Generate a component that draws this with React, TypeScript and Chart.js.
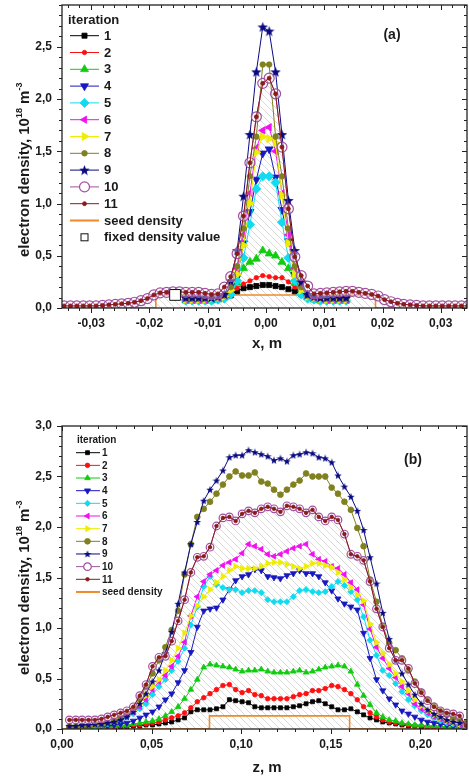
import React, { useEffect, useRef } from 'react';
import { Chart, registerables } from 'chart.js';

Chart.register(...registerables);

const FONT = '"Liberation Sans", Arial, Helvetica, sans-serif';

// ================= Panel (a): transverse profile, x [m] =================
const A_X_FULL = [-0.03465, -0.03355, -0.03245, -0.03135, -0.03025, -0.02915, -0.02805, -0.02695, -0.02585, -0.02475, -0.02365, -0.02255, -0.02145, -0.02035, -0.01925, -0.01815, -0.01705, -0.01595, -0.01485, -0.01375, -0.01265, -0.01155, -0.01045, -0.00935, -0.00825, -0.00715, -0.00605, -0.00495, -0.00385, -0.00275, -0.00165, -0.00055, 0.00055, 0.00165, 0.00275, 0.00385, 0.00495, 0.00605, 0.00715, 0.00825, 0.00935, 0.01045, 0.01155, 0.01265, 0.01375, 0.01485, 0.01595, 0.01705, 0.01815, 0.01925, 0.02035, 0.02145, 0.02255, 0.02365, 0.02475, 0.02585, 0.02695, 0.02805, 0.02915, 0.03025, 0.03135, 0.03245, 0.03355, 0.03465];
const A_X_CORE = [-0.01375, -0.01265, -0.01155, -0.01045, -0.00935, -0.00825, -0.00715, -0.00605, -0.00495, -0.00385, -0.00275, -0.00165, -0.00055, 0.00055, 0.00165, 0.00275, 0.00385, 0.00495, 0.00605, 0.00715, 0.00825, 0.00935, 0.01045, 0.01155, 0.01265, 0.01375];
const A_IT1 = [0.07, 0.07, 0.07, 0.07, 0.08, 0.09, 0.10, 0.12, 0.16, 0.19, 0.20, 0.21, 0.22, 0.22, 0.21, 0.20, 0.18, 0.16, 0.13, 0.10, 0.09, 0.08, 0.07, 0.07, 0.07, 0.07];
const A_IT2 = [0.07, 0.07, 0.07, 0.08, 0.08, 0.09, 0.11, 0.14, 0.19, 0.23, 0.26, 0.29, 0.31, 0.30, 0.29, 0.29, 0.25, 0.20, 0.15, 0.11, 0.09, 0.08, 0.08, 0.07, 0.07, 0.07];
const A_IT3 = [0.07, 0.07, 0.07, 0.07, 0.07, 0.08, 0.10, 0.15, 0.24, 0.38, 0.44, 0.47, 0.55, 0.52, 0.50, 0.44, 0.38, 0.24, 0.15, 0.10, 0.08, 0.07, 0.07, 0.07, 0.07, 0.07];
const A_IT4 = [0.08, 0.08, 0.08, 0.08, 0.09, 0.09, 0.10, 0.15, 0.30, 0.62, 0.92, 1.23, 1.48, 1.52, 1.25, 0.94, 0.64, 0.32, 0.16, 0.10, 0.09, 0.09, 0.08, 0.08, 0.08, 0.08];
const A_IT5 = [0.07, 0.07, 0.07, 0.07, 0.07, 0.08, 0.09, 0.13, 0.26, 0.48, 0.80, 1.14, 1.26, 1.26, 1.20, 0.82, 0.48, 0.26, 0.13, 0.09, 0.08, 0.07, 0.07, 0.07, 0.07, 0.07];
const A_IT6 = [0.08, 0.08, 0.08, 0.08, 0.09, 0.10, 0.12, 0.20, 0.38, 0.70, 1.10, 1.53, 1.70, 1.73, 1.50, 1.10, 0.70, 0.38, 0.20, 0.12, 0.10, 0.09, 0.08, 0.08, 0.08, 0.08];
const A_IT7 = [0.08, 0.08, 0.08, 0.08, 0.09, 0.10, 0.11, 0.17, 0.32, 0.60, 1.00, 1.49, 1.64, 1.62, 1.58, 1.08, 0.62, 0.32, 0.17, 0.11, 0.10, 0.09, 0.08, 0.08, 0.08, 0.08];
const A_IT8 = [0.09, 0.09, 0.09, 0.09, 0.10, 0.11, 0.12, 0.20, 0.40, 0.76, 1.26, 1.64, 2.33, 2.33, 1.64, 1.26, 0.76, 0.40, 0.20, 0.12, 0.11, 0.10, 0.09, 0.09, 0.09, 0.09];
const A_IT9 = [0.10, 0.10, 0.10, 0.10, 0.10, 0.11, 0.13, 0.26, 0.55, 1.07, 1.66, 2.26, 2.69, 2.65, 2.26, 1.66, 1.03, 0.55, 0.25, 0.13, 0.11, 0.10, 0.10, 0.10, 0.10, 0.10];
const A_IT10_11 = [0.02, 0.02, 0.02, 0.02, 0.02, 0.02, 0.025, 0.03, 0.035, 0.04, 0.045, 0.055, 0.07, 0.09, 0.125, 0.145, 0.15, 0.155, 0.155, 0.15, 0.15, 0.15, 0.14, 0.13, 0.135, 0.20, 0.30, 0.52, 0.88, 1.39, 1.83, 2.15,
  2.20, 2.05, 1.54, 0.95, 0.49, 0.31, 0.21, 0.135, 0.14, 0.145, 0.15, 0.155, 0.16, 0.16, 0.15, 0.14, 0.13, 0.115, 0.08, 0.06, 0.045, 0.035, 0.03, 0.025, 0.02, 0.02, 0.02, 0.02, 0.02, 0.02, 0.02, 0.02];
const A_SEED_X = [-0.035, -0.0189, -0.0189, 0.0188, 0.0188, 0.0345];
const A_SEED_Y = [0, 0, 0.125, 0.125, 0, 0];
const A_FIXED_X = [-0.0156];
const A_FIXED_Y = [0.125];
const A_X_TICKS = [-0.03, -0.02, -0.01, 0, 0.01, 0.02, 0.03];
const A_Y_TICKS = [0, 0.5, 1, 1.5, 2, 2.5];

// ================= Panel (b): axial profile, z [m] =================
const B_Z = [0.0041, 0.0077, 0.0112, 0.0148, 0.0184, 0.0220, 0.0255, 0.0291, 0.0327, 0.0362, 0.0398, 0.0434, 0.0469, 0.0505, 0.0541, 0.0577, 0.0612, 0.0648, 0.0684, 0.0719, 0.0755, 0.0791, 0.0826, 0.0862, 0.0898, 0.0934, 0.0969, 0.1005, 0.1041, 0.1076, 0.1112, 0.1148, 0.1183, 0.1219, 0.1255, 0.1291, 0.1326, 0.1362, 0.1398, 0.1433, 0.1469, 0.1505, 0.1540, 0.1576, 0.1612, 0.1648, 0.1683, 0.1719, 0.1755, 0.1790, 0.1826, 0.1862, 0.1897, 0.1933, 0.1969, 0.2005, 0.2040, 0.2076, 0.2112, 0.2147, 0.2183, 0.2219, 0.2254];
const B_IT1 = [0.01, 0.01, 0.01, 0.01, 0.01, 0.01, 0.02, 0.02, 0.02, 0.02, 0.03, 0.03, 0.04, 0.04, 0.05, 0.06, 0.07, 0.09, 0.11, 0.17, 0.19, 0.19, 0.19, 0.20, 0.22, 0.29, 0.28, 0.27, 0.26, 0.22, 0.21, 0.21, 0.21, 0.21, 0.21, 0.22, 0.23, 0.25, 0.27, 0.28, 0.25, 0.22, 0.19, 0.19, 0.20, 0.17, 0.14, 0.11, 0.09, 0.07, 0.06, 0.05, 0.04, 0.03, 0.03, 0.02, 0.02, 0.02, 0.01, 0.01, 0.01, 0.01, 0.01];
const B_IT2 = [0.01, 0.01, 0.01, 0.01, 0.02, 0.02, 0.02, 0.02, 0.03, 0.03, 0.04, 0.04, 0.05, 0.06, 0.07, 0.09, 0.11, 0.13, 0.16, 0.21, 0.27, 0.31, 0.35, 0.39, 0.43, 0.44, 0.39, 0.36, 0.38, 0.34, 0.33, 0.30, 0.30, 0.30, 0.30, 0.32, 0.34, 0.35, 0.38, 0.38, 0.40, 0.43, 0.42, 0.39, 0.35, 0.29, 0.22, 0.16, 0.12, 0.09, 0.07, 0.06, 0.05, 0.04, 0.03, 0.03, 0.02, 0.02, 0.02, 0.01, 0.01, 0.01, 0.01];
const B_IT3 = [0.01, 0.01, 0.01, 0.02, 0.02, 0.02, 0.03, 0.03, 0.04, 0.04, 0.05, 0.06, 0.07, 0.08, 0.10, 0.13, 0.17, 0.22, 0.30, 0.39, 0.49, 0.61, 0.64, 0.63, 0.62, 0.61, 0.59, 0.57, 0.58, 0.58, 0.59, 0.57, 0.56, 0.56, 0.56, 0.57, 0.58, 0.56, 0.57, 0.59, 0.61, 0.62, 0.63, 0.62, 0.57, 0.44, 0.33, 0.24, 0.16, 0.12, 0.09, 0.08, 0.06, 0.05, 0.04, 0.04, 0.03, 0.03, 0.03, 0.02, 0.02, 0.02, 0.02];
const B_IT4 = [0.02, 0.02, 0.02, 0.02, 0.03, 0.03, 0.03, 0.04, 0.05, 0.06, 0.08, 0.11, 0.14, 0.17, 0.22, 0.29, 0.35, 0.46, 0.58, 0.76, 1.01, 1.17, 1.19, 1.20, 1.28, 1.38, 1.47, 1.51, 1.53, 1.58, 1.57, 1.51, 1.50, 1.49, 1.52, 1.54, 1.57, 1.54, 1.54, 1.51, 1.45, 1.37, 1.29, 1.24, 1.21, 1.18, 0.95, 0.70, 0.49, 0.38, 0.30, 0.24, 0.18, 0.15, 0.12, 0.09, 0.07, 0.06, 0.05, 0.04, 0.03, 0.03, 0.02];
const B_IT5 = [0.02, 0.02, 0.02, 0.03, 0.03, 0.04, 0.05, 0.07, 0.09, 0.12, 0.15, 0.20, 0.25, 0.34, 0.42, 0.49, 0.58, 0.67, 0.80, 1.03, 1.21, 1.41, 1.51, 1.43, 1.40, 1.38, 1.38, 1.35, 1.37, 1.37, 1.35, 1.28, 1.26, 1.26, 1.26, 1.31, 1.37, 1.38, 1.36, 1.35, 1.36, 1.41, 1.46, 1.42, 1.36, 1.28, 1.11, 0.88, 0.73, 0.58, 0.53, 0.45, 0.37, 0.29, 0.23, 0.18, 0.14, 0.11, 0.08, 0.06, 0.05, 0.04, 0.03];
const B_IT6 = [0.03, 0.03, 0.03, 0.04, 0.04, 0.05, 0.06, 0.07, 0.11, 0.14, 0.17, 0.22, 0.29, 0.39, 0.47, 0.53, 0.62, 0.72, 0.86, 1.12, 1.31, 1.46, 1.53, 1.57, 1.62, 1.65, 1.68, 1.74, 1.83, 1.81, 1.78, 1.73, 1.71, 1.73, 1.76, 1.79, 1.81, 1.83, 1.73, 1.68, 1.66, 1.61, 1.59, 1.53, 1.45, 1.38, 1.23, 0.99, 0.81, 0.70, 0.60, 0.51, 0.42, 0.35, 0.25, 0.20, 0.16, 0.12, 0.10, 0.07, 0.06, 0.05, 0.04];
const B_IT7 = [0.02, 0.02, 0.03, 0.03, 0.04, 0.05, 0.06, 0.09, 0.12, 0.15, 0.19, 0.25, 0.33, 0.42, 0.49, 0.58, 0.68, 0.80, 0.95, 1.12, 1.22, 1.31, 1.38, 1.45, 1.51, 1.57, 1.61, 1.59, 1.59, 1.59, 1.61, 1.64, 1.65, 1.65, 1.63, 1.61, 1.59, 1.61, 1.64, 1.64, 1.62, 1.60, 1.55, 1.48, 1.40, 1.33, 1.27, 1.04, 0.86, 0.75, 0.64, 0.55, 0.47, 0.38, 0.29, 0.23, 0.18, 0.14, 0.11, 0.08, 0.06, 0.05, 0.04];
const B_IT8 = [0.02, 0.02, 0.03, 0.03, 0.04, 0.05, 0.06, 0.08, 0.11, 0.15, 0.20, 0.30, 0.42, 0.55, 0.68, 0.81, 0.98, 1.17, 1.53, 1.83, 2.10, 2.18, 2.25, 2.33, 2.42, 2.50, 2.55, 2.51, 2.51, 2.54, 2.45, 2.43, 2.37, 2.32, 2.37, 2.42, 2.46, 2.53, 2.50, 2.50, 2.50, 2.39, 2.33, 2.25, 2.17, 1.99, 1.81, 1.48, 1.26, 1.02, 0.85, 0.78, 0.70, 0.58, 0.47, 0.37, 0.29, 0.23, 0.18, 0.14, 0.11, 0.09, 0.06];
const B_IT9 = [0.03, 0.03, 0.04, 0.04, 0.05, 0.05, 0.06, 0.07, 0.09, 0.12, 0.17, 0.25, 0.35, 0.47, 0.58, 0.75, 0.96, 1.24, 1.55, 1.83, 2.05, 2.26, 2.37, 2.46, 2.56, 2.69, 2.71, 2.71, 2.76, 2.74, 2.72, 2.70, 2.66, 2.68, 2.65, 2.71, 2.72, 2.74, 2.73, 2.69, 2.68, 2.64, 2.51, 2.40, 2.30, 2.16, 1.97, 1.70, 1.44, 1.15, 0.89, 0.68, 0.55, 0.44, 0.34, 0.25, 0.19, 0.15, 0.12, 0.09, 0.07, 0.06, 0.05];
const B_IT10_11 = [0.09, 0.09, 0.09, 0.09, 0.09, 0.10, 0.12, 0.14, 0.16, 0.18, 0.22, 0.33, 0.44, 0.62, 0.71, 0.72, 0.87, 1.07, 1.28, 1.55, 1.70, 1.71, 1.80, 2.01, 2.09, 2.10, 2.06, 2.13, 2.16, 2.14, 2.18, 2.20, 2.18, 2.15, 2.21, 2.20, 2.18, 2.14, 2.17, 2.10, 2.06, 2.10, 2.07, 1.93, 1.73, 1.71, 1.67, 1.46, 1.19, 1.01, 0.80, 0.68, 0.68, 0.60, 0.45, 0.36, 0.28, 0.22, 0.18, 0.16, 0.15, 0.13, 0.03];
const B_SEED_X = [0, 0.0823, 0.0823, 0.1605, 0.1605, 0.226];
const B_SEED_Y = [0, 0, 0.13, 0.13, 0, 0];
const B_X_TICKS = [0, 0.05, 0.1, 0.15, 0.2];
const B_Y_TICKS = [0, 0.5, 1, 1.5, 2, 2.5, 3];

// ================= labels =================
const ITER_LABELS = ['1', '2', '3', '4', '5', '6', '7', '8', '9', '10', '11'];
const LEGEND_TITLE = 'iteration';
const SEED_LABEL = 'seed density';
const FIXED_LABEL = 'fixed density value';

// ================= styles =================
const COLORS = ['#000000', '#ff1010', '#10cc10', '#1818c0', '#10dcf0', '#f010f0', '#eeee00', '#808020', '#0a0a80', '#a050a0', '#8b1a1a'];
const SHAPES = ['rect', 'circle', 'triangle', 'triangle', 'rectRot', 'triangle', 'triangle', 'circle', 'star', 'circle', 'circle'];
const ROTS = [0, 0, 0, 180, 0, 270, 90, 0, 0, 0, 0];
const SEED_COLOR = '#f0892a';
const TEXT = '#1a1a1a';

const pts = (xs: number[], ys: number[]) => xs.map((x, i) => ({ x, y: ys[i] }));
const fmt = (v: number, d: number) => (v < 0 ? '-' : '') + Math.abs(v).toFixed(d).replace('.', ',');

function makeStar(size: number, color: string) {
  const c = document.createElement('canvas');
  c.width = size;
  c.height = size;
  const g = c.getContext('2d')!;
  const R = size / 2;
  const r = R * 0.42;
  const cx = size / 2;
  const cy = size / 2 + R * 0.08;
  g.beginPath();
  for (let k = 0; k < 10; k++) {
    const ang = -Math.PI / 2 + (k * Math.PI) / 5;
    const rad = k % 2 === 0 ? R : r;
    const px = cx + rad * Math.cos(ang);
    const py = cy + rad * Math.sin(ang);
    if (k === 0) g.moveTo(px, py);
    else g.lineTo(px, py);
  }
  g.closePath();
  g.fillStyle = color;
  g.fill();
  return c;
}

function makeHatch(step: number) {
  const c = document.createElement('canvas');
  c.width = step;
  c.height = step;
  const g = c.getContext('2d')!;
  g.strokeStyle = '#cfcfcf';
  g.lineWidth = 0.8;
  for (let k = -1; k <= 1; k++) {
    g.beginPath();
    g.moveTo(k * step, 0);
    g.lineTo(k * step + step, step);
    g.stroke();
  }
  return g.createPattern(c, 'repeat');
}

function drawShape(ctx: CanvasRenderingContext2D, shape: any, x: number, y: number, r: number, rot: number, fill: string, stroke: string, lw: number) {
  ctx.save();
  ctx.translate(x, y);
  if (typeof shape !== 'string') {
    ctx.drawImage(shape, -shape.width / 2, -shape.height / 2);
    ctx.restore();
    return;
  }
  ctx.rotate((rot * Math.PI) / 180);
  ctx.beginPath();
  if (shape === 'circle') ctx.arc(0, 0, r, 0, Math.PI * 2);
  else if (shape === 'rect') {
    const s = r * Math.SQRT1_2;
    ctx.rect(-s, -s, 2 * s, 2 * s);
  } else if (shape === 'rectRot') {
    ctx.moveTo(0, -r);
    ctx.lineTo(r, 0);
    ctx.lineTo(0, r);
    ctx.lineTo(-r, 0);
    ctx.closePath();
  } else if (shape === 'triangle') {
    for (let k = 0; k < 3; k++) {
      const a = (k * 2 * Math.PI) / 3;
      const px = Math.sin(a) * r;
      const py = -Math.cos(a) * r;
      if (k === 0) ctx.moveTo(px, py);
      else ctx.lineTo(px, py);
    }
    ctx.closePath();
  }
  ctx.fillStyle = fill;
  ctx.fill();
  ctx.lineWidth = lw;
  ctx.strokeStyle = stroke;
  ctx.stroke();
  ctx.restore();
}

type PanelCfg = {
  tag: string;
  xs: number[][];
  ys: number[][];
  seedX: number[];
  seedY: number[];
  fixedX?: number[];
  fixedY?: number[];
  xMin: number;
  xMax: number;
  yMax: number;
  xTicks: number[];
  yTicks: number[];
  xMajor: number;
  xMinor: number;
  xDigits: number;
  radii: number[];
  starSize: number;
  padding: { left: number; right: number; top: number; bottom: number };
  xTitle: string;
  xTitleY: number;
  yTitleX: number;
  yTitleStart: number;
  panelLabel: string;
  panelLabelX: number;
  panelLabelY: number;
  legend: { titleX: number; titleY: number; y0: number; dy: number; lx0: number; lx1: number; mx: number; tx: number; size: number };
};

function buildChart(canvas: HTMLCanvasElement, cfg: PanelCfg) {
  const hatch = makeHatch(7);
  const star = makeStar(cfg.starSize, COLORS[8]);
  const datasets: any[] = [];
  datasets.push({
    label: SEED_LABEL,
    data: pts(cfg.seedX, cfg.seedY),
    showLine: true,
    borderColor: SEED_COLOR,
    borderWidth: 1.6,
    pointRadius: 0,
    fill: false,
    order: 50,
  });
  for (let i = 0; i < 11; i++) {
    const open = i === 9;
    const ds: any = {
      label: ITER_LABELS[i],
      data: pts(cfg.xs[i], cfg.ys[i]),
      showLine: true,
      tension: 0,
      borderColor: COLORS[i],
      borderWidth: 1,
      pointStyle: i === 8 ? star : SHAPES[i],
      pointRotation: ROTS[i],
      pointRadius: cfg.radii[i],
      pointBackgroundColor: open ? 'rgba(255,255,255,0.35)' : COLORS[i],
      pointBorderColor: COLORS[i],
      pointBorderWidth: open ? 1.2 : 0.8,
      fill: false,
      order: 20 - i,
    };
    if (i === 10) {
      ds.fill = 'origin';
      ds.backgroundColor = hatch;
    }
    datasets.push(ds);
  }
  if (cfg.fixedX && cfg.fixedY) {
    datasets.push({
      label: FIXED_LABEL,
      data: pts(cfg.fixedX, cfg.fixedY),
      showLine: false,
      pointStyle: 'rect',
      pointRadius: 7.6,
      pointBackgroundColor: '#ffffff',
      pointBorderColor: '#111111',
      pointBorderWidth: 1,
      order: 0,
    });
  }

  const deco = {
    id: 'deco' + cfg.tag,
    afterDraw(chart: any) {
      const ctx: CanvasRenderingContext2D = chart.ctx;
      const { left, right, top, bottom } = chart.chartArea;
      const xs = chart.scales.x;
      const ys = chart.scales.y;
      ctx.save();
      // frame
      ctx.strokeStyle = '#222';
      ctx.lineWidth = 1.3;
      ctx.strokeRect(left, top, right - left, bottom - top);
      // ticks
      ctx.lineWidth = 1;
      const seg = (x1: number, y1: number, x2: number, y2: number) => {
        ctx.beginPath();
        ctx.moveTo(x1, y1);
        ctx.lineTo(x2, y2);
        ctx.stroke();
      };
      const k0 = Math.ceil(cfg.xMin / cfg.xMinor - 1e-6);
      const k1 = Math.floor(cfg.xMax / cfg.xMinor + 1e-6);
      for (let k = k0; k <= k1; k++) {
        const v = k * cfg.xMinor;
        const q = v / cfg.xMajor;
        const major = Math.abs(q - Math.round(q)) < 1e-6;
        const L = major ? 5 : 3;
        const px = Math.round(xs.getPixelForValue(v)) + 0.5;
        seg(px, bottom, px, bottom + L);
        seg(px, top, px, top + L);
      }
      for (let k = 0; k * 0.1 <= cfg.yMax + 1e-6; k++) {
        const v = k * 0.1;
        const major = k % 5 === 0;
        const L = major ? 5 : 3;
        const py = Math.round(ys.getPixelForValue(v)) + 0.5;
        seg(left - L, py, left, py);
        seg(right - L, py, right, py);
      }
      ctx.fillStyle = TEXT;
      // x title
      ctx.font = `bold 15px ${FONT}`;
      ctx.textAlign = 'center';
      ctx.textBaseline = 'alphabetic';
      ctx.fillText(cfg.xTitle, 267, cfg.xTitleY);
      // y title with superscripts
      ctx.save();
      ctx.translate(cfg.yTitleX, cfg.yTitleStart);
      ctx.rotate(-Math.PI / 2);
      ctx.textAlign = 'left';
      const parts: [string, string, number][] = [
        ['electron density, 10', `bold 15px ${FONT}`, 0],
        ['18', `bold 9px ${FONT}`, -7],
        [' m', `bold 15px ${FONT}`, 0],
        ['-3', `bold 9px ${FONT}`, -7],
      ];
      let cx = 0;
      for (const [t, f, dy] of parts) {
        ctx.font = f;
        ctx.fillText(t, cx, dy);
        cx += ctx.measureText(t).width;
      }
      ctx.restore();
      // panel label
      ctx.font = `bold 14px ${FONT}`;
      ctx.textAlign = 'center';
      ctx.textBaseline = 'middle';
      ctx.fillText(cfg.panelLabel, cfg.panelLabelX, cfg.panelLabelY);
      // legend
      const lg = cfg.legend;
      ctx.font = `bold ${lg.size}px ${FONT}`;
      ctx.textAlign = 'left';
      ctx.textBaseline = 'middle';
      ctx.fillText(LEGEND_TITLE, lg.titleX, lg.titleY);
      for (let i = 0; i < 11; i++) {
        const y = lg.y0 + i * lg.dy;
        ctx.strokeStyle = COLORS[i];
        ctx.lineWidth = 1;
        seg(lg.lx0, y, lg.lx1, y);
        const open = i === 9;
        drawShape(ctx, i === 8 ? star : SHAPES[i], lg.mx, y, cfg.radii[i], ROTS[i], open ? '#ffffff' : COLORS[i], COLORS[i], open ? 1.2 : 0.8);
        ctx.fillStyle = TEXT;
        ctx.fillText(ITER_LABELS[i], lg.tx, y + 0.5);
      }
      const ySeed = lg.y0 + 11 * lg.dy;
      ctx.strokeStyle = SEED_COLOR;
      ctx.lineWidth = 2;
      seg(lg.lx0, ySeed, lg.lx1, ySeed);
      ctx.fillStyle = TEXT;
      ctx.fillText(SEED_LABEL, lg.tx, ySeed + 0.5);
      if (cfg.fixedX) {
        const yF = lg.y0 + 12 * lg.dy;
        ctx.fillStyle = '#ffffff';
        ctx.strokeStyle = '#111';
        ctx.lineWidth = 1;
        ctx.fillRect(lg.mx - 3.5, yF - 3.5, 7, 7);
        ctx.strokeRect(lg.mx - 3.5, yF - 3.5, 7, 7);
        ctx.fillStyle = TEXT;
        ctx.fillText(FIXED_LABEL, lg.tx, yF + 0.5);
      }
      ctx.restore();
    },
  };

  const tickFont = { family: FONT, size: 12, weight: 'bold' };
  const zeroPad = (s: any) => {
    s.paddingTop = 0;
    s.paddingBottom = 0;
    s.paddingLeft = 0;
    s.paddingRight = 0;
  };
  return new Chart(canvas, {
    type: 'scatter',
    data: { datasets },
    options: {
      responsive: false,
      animation: false,
      events: [],
      layout: { padding: cfg.padding, autoPadding: false },
      plugins: {
        legend: { display: false },
        tooltip: { enabled: false },
        filler: { drawTime: 'beforeDatasetsDraw' },
      },
      scales: {
        x: {
          type: 'linear',
          min: cfg.xMin,
          max: cfg.xMax,
          grid: { display: false, drawTicks: false },
          border: { display: false },
          afterBuildTicks: (s: any) => {
            s.ticks = cfg.xTicks.map((v) => ({ value: v }));
          },
          afterFit: (s: any) => {
            s.height = 40;
            zeroPad(s);
          },
          ticks: {
            padding: 8,
            font: tickFont,
            color: TEXT,
            maxRotation: 0,
            autoSkip: false,
            callback: (v: any) => fmt(Number(v), cfg.xDigits),
          },
        },
        y: {
          type: 'linear',
          min: 0,
          max: cfg.yMax,
          grid: { display: false, drawTicks: false },
          border: { display: false },
          afterBuildTicks: (s: any) => {
            s.ticks = cfg.yTicks.map((v) => ({ value: v }));
          },
          afterFit: (s: any) => {
            s.width = 62;
            zeroPad(s);
          },
          ticks: {
            padding: 10,
            font: tickFont,
            color: TEXT,
            autoSkip: false,
            callback: (v: any) => fmt(Number(v), 1),
          },
        },
      },
    } as any,
    plugins: [deco as any],
  });
}

const CFG_A: PanelCfg = {
  tag: 'A',
  xs: [A_X_CORE, A_X_CORE, A_X_CORE, A_X_CORE, A_X_CORE, A_X_CORE, A_X_CORE, A_X_CORE, A_X_CORE, A_X_FULL, A_X_FULL],
  ys: [A_IT1, A_IT2, A_IT3, A_IT4, A_IT5, A_IT6, A_IT7, A_IT8, A_IT9, A_IT10_11, A_IT10_11],
  seedX: A_SEED_X,
  seedY: A_SEED_Y,
  fixedX: A_FIXED_X,
  fixedY: A_FIXED_Y,
  xMin: -0.035,
  xMax: 0.0345,
  yMax: 2.9,
  xTicks: A_X_TICKS,
  yTicks: A_Y_TICKS,
  xMajor: 0.01,
  xMinor: 0.002,
  xDigits: 2,
  radii: [3.6, 2.2, 4.6, 4.6, 4.6, 4.2, 4.6, 2.8, 5, 5, 2],
  starSize: 11,
  padding: { left: 0, right: 2, top: 5, bottom: 12 },
  xTitle: 'x, m',
  xTitleY: 348,
  yTitleX: 29,
  yTitleStart: 257,
  panelLabel: '(a)',
  panelLabelX: 392,
  panelLabelY: 35,
  legend: { titleX: 68, titleY: 20, y0: 35.7, dy: 16.8, lx0: 70, lx1: 99, mx: 84.5, tx: 104, size: 13 },
};

const CFG_B: PanelCfg = {
  tag: 'B',
  xs: [B_Z, B_Z, B_Z, B_Z, B_Z, B_Z, B_Z, B_Z, B_Z, B_Z, B_Z],
  ys: [B_IT1, B_IT2, B_IT3, B_IT4, B_IT5, B_IT6, B_IT7, B_IT8, B_IT9, B_IT10_11, B_IT10_11],
  seedX: B_SEED_X,
  seedY: B_SEED_Y,
  xMin: 0,
  xMax: 0.226,
  yMax: 3.0,
  xTicks: B_X_TICKS,
  yTicks: B_Y_TICKS,
  xMajor: 0.05,
  xMinor: 0.01,
  xDigits: 2,
  radii: [2.8, 2.3, 3.3, 3.5, 3.1, 3.3, 3.5, 2.9, 4, 3.8, 1.8],
  starSize: 8,
  padding: { left: 0, right: 2, top: 26, bottom: 9 },
  xTitle: 'z, m',
  xTitleY: 372,
  yTitleX: 29,
  yTitleStart: 275,
  panelLabel: '(b)',
  panelLabelX: 413,
  panelLabelY: 60,
  legend: { titleX: 77, titleY: 40.7, y0: 52.7, dy: 12.66, lx0: 76, lx1: 100, mx: 87.5, tx: 102, size: 10 },
};

export default function App() {
  const refA = useRef<HTMLCanvasElement>(null);
  const refB = useRef<HTMLCanvasElement>(null);
  useEffect(() => {
    const a = buildChart(refA.current!, CFG_A);
    const b = buildChart(refB.current!, CFG_B);
    return () => {
      a.destroy();
      b.destroy();
    };
  }, []);
  return (
    <div style={{ position: 'absolute', left: 0, top: 0, width: 469, height: 778, background: '#ffffff' }}>
      <canvas ref={refA} width={469} height={360} style={{ position: 'absolute', left: 0, top: 0, width: 469, height: 360 }} />
      <canvas ref={refB} width={469} height={378} style={{ position: 'absolute', left: 0, top: 400, width: 469, height: 378 }} />
    </div>
  );
}
